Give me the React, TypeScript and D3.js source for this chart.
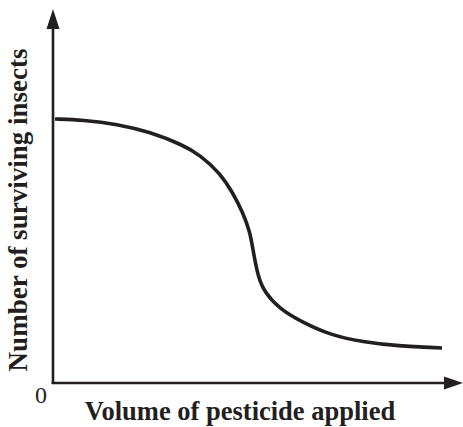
import React from 'react';
import * as d3 from 'd3';

// volume of pesticide (arbitrary units) vs surviving insects (arbitrary units)
const volume = [0.5, 7.5, 16, 24.25, 32.5, 36.75, 41.75, 45, 47.5, 49.25, 50, 51.25, 53, 56.75, 61.75, 69.25, 77.5, 86, 97.25];
const survivors = [71.35, 71.08, 70.0, 67.84, 64.32, 61.62, 56.76, 51.35, 45.95, 40.81, 35.95, 28.65, 24.32, 20.0, 16.76, 12.97, 11.08, 10.0, 9.46];

const xLabel = 'Volume of pesticide applied';
const yLabel = 'Number of surviving insects';
const originLabel = '0';

const W = 463;
const H = 427;

export default function App() {
  const x = d3.scaleLinear().domain([0, 100]).range([53, 453]);
  const y = d3.scaleLinear().domain([0, 100]).range([383, 13]);

  const pts = volume.map((v, i) => [v, survivors[i]] as [number, number]);
  const line = d3.line<[number, number]>()
    .x(d => x(d[0]))
    .y(d => y(d[1]))
    .curve(d3.curveBasis);

  const x0 = x(0);
  const y0 = y(0);
  const font = '"Liberation Serif", "Times New Roman", serif';

  return (
    <svg width={W} height={H} style={{ position: 'absolute', left: 0, top: 0 }}>
      <rect width={W} height={H} fill="#fff" />
      {/* axes */}
      <line x1={x0} x2={x0} y1={y0 + 1} y2={26} stroke="#231f20" strokeWidth={2.6} />
      <path d={`M${x0},9 L${x0 - 6.5},29 L${x0 + 6.5},29 Z`} fill="#231f20" />
      <line x1={x0 - 1.3} x2={448} y1={y0} y2={y0} stroke="#231f20" strokeWidth={2.6} />
      <path d={`M463,${y0} L444,${y0 - 6.5} L444,${y0 + 6.5} Z`} fill="#231f20" />

      {/* curve */}
      <path d={line(pts) || ''} fill="none" stroke="#231f20" strokeWidth={3.6} strokeLinecap="butt" />

      {/* labels */}
      <text x={41} y={403} textAnchor="middle" fontFamily={font} fontSize={24} fill="#231f20">{originLabel}</text>
      <text x={240} y={420} textAnchor="middle" fontFamily={font} fontSize={26.5} fontWeight="bold" fill="#231f20">{xLabel}</text>
      <text transform={`translate(27,210) rotate(-90)`} textAnchor="middle" fontFamily={font} fontSize={27} fontWeight="bold" fill="#231f20">{yLabel}</text>
    </svg>
  );
}
